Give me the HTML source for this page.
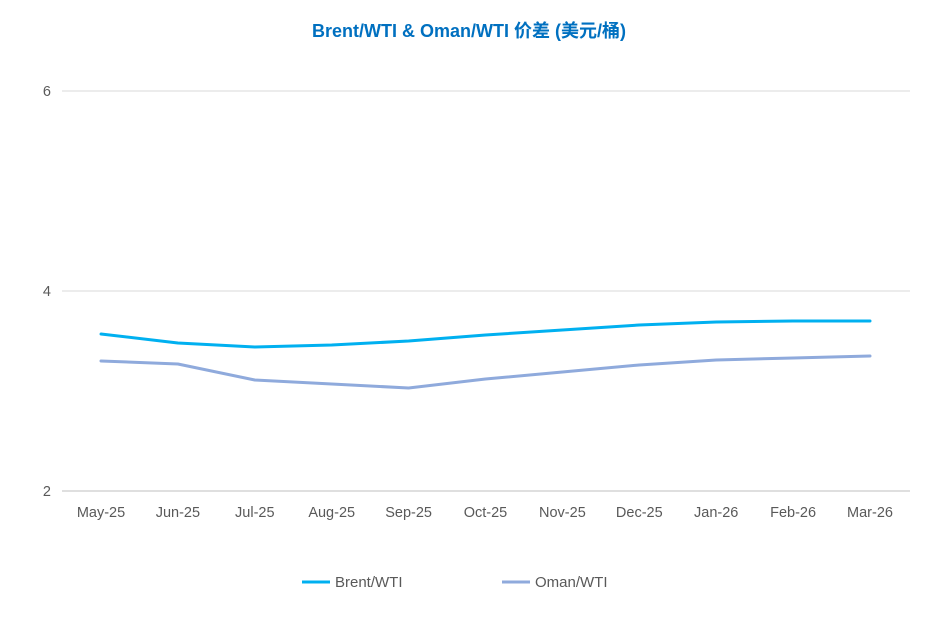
<!DOCTYPE html>
<html><head><meta charset="utf-8"><style>
body{margin:0;background:#fff;}
svg{display:block;font-family:"Liberation Sans","Noto Sans CJK SC",sans-serif;}
</style></head><body>
<svg id="chart" width="937" height="634">
<text x="469" y="37" text-anchor="middle" font-size="18" font-weight="bold" fill="#0070c0">Brent/WTI &amp; Oman/WTI 价差 (美元/桶)</text>
<g id="grid"></g><g id="xl"></g><g id="series"></g>
<g>
<line x1="302" y1="582" x2="330" y2="582" stroke="#00b0f0" stroke-width="3"/>
<text x="335" y="587" font-size="15" fill="#595959">Brent/WTI</text>
<line x1="502" y1="582" x2="530" y2="582" stroke="#8faadc" stroke-width="3"/>
<text x="535" y="587" font-size="15" fill="#595959">Oman/WTI</text>
</g>
</svg>
<script>
const categories=["May-25","Jun-25","Jul-25","Aug-25","Sep-25","Oct-25","Nov-25","Dec-25","Jan-26","Feb-26","Mar-26"];
const brent=[3.57,3.48,3.44,3.46,3.50,3.56,3.61,3.66,3.69,3.70,3.70];
const oman=[3.30,3.27,3.11,3.07,3.03,3.12,3.19,3.26,3.31,3.33,3.35];
const yTicks=[2,4,6];
const NS="http://www.w3.org/2000/svg";
const x=i=>101+i*(870-101)/(categories.length-1);
const y=v=>491-(v-2)*100;
function mk(t,a,p){const e=document.createElementNS(NS,t);for(const k in a)e.setAttribute(k,a[k]);p.appendChild(e);return e;}
const g=document.getElementById('grid');
yTicks.forEach(v=>{
 const l=mk('line',{x1:62,x2:910,y1:y(v),y2:y(v),stroke:v===2?'#bfbfbf':'#d9d9d9','stroke-width':1},g);
 
 
 const t=mk('text',{x:51,y:y(v)+5,'text-anchor':'end','font-size':14.5,fill:'#595959'},g);
 t.textContent=v;
 
 
});
const xl=document.getElementById('xl');
categories.forEach((c,i)=>{
 const t=mk('text',{x:x(i),y:517,'text-anchor':'middle','font-size':14.5,fill:'#595959'},xl);
 t.textContent=c;
 
 
});
const s=document.getElementById('series');
[[brent,'#00b0f0','brent-wti-line'],[oman,'#8faadc','oman-wti-line']].forEach(([d,c,n])=>{
 const p=mk('polyline',{points:d.map((v,i)=>x(i)+','+y(v)).join(' '),fill:'none',stroke:c,'stroke-width':3,'stroke-linejoin':'round','stroke-linecap':'round'},s);
 
 
});
</script>
</body></html>
